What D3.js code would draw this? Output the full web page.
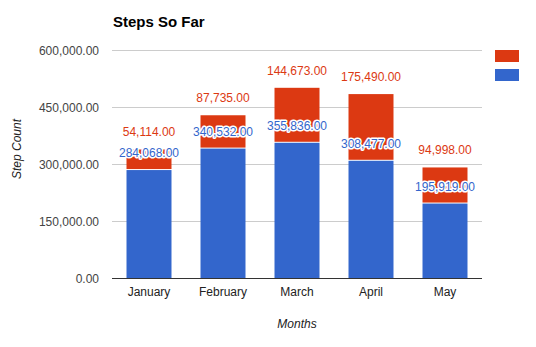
<!DOCTYPE html>
<html>
<head>
<meta charset="utf-8">
<script src="https://cdn.jsdelivr.net/npm/d3@7"></script>
<style>
  html, body { margin: 0; padding: 0; background: #fff; }
  svg { display: block; font-family: Arial, "Liberation Sans", sans-serif; }
</style>
</head>
<body>
<svg id="chart" width="536" height="347"></svg>
<script>
// Monthly step counts: walked so far (blue) plus the remainder (red) stacked on top
const months = ["January", "February", "March", "April", "May"];
const stepsDone = [284068, 340532, 355836, 308477, 195919];
const stepsExtra = [54114, 87735, 144673, 175490, 94998];
const yTicks = [0, 150000, 300000, 450000, 600000];
const seriesColors = ["#3366cc", "#dc3912"];

const svg = d3.select("#chart");
const plot = { left: 112, right: 482, top: 50, bottom: 278 };

const x = d3.scaleBand()
  .domain(months)
  .range([plot.left, plot.right])
  .paddingInner(0.392)
  .paddingOuter(0.196);

const y = d3.scaleLinear()
  .domain([0, 600000])
  .range([plot.bottom, plot.top]);

const fmt = d3.format(",.2f");

// Title
svg.append("text")
  .attr("x", 113).attr("y", 27)
  .attr("font-size", 15).attr("font-weight", "bold")
  .attr("fill", "#000")
  .text("Steps So Far");

// Gridlines
svg.append("g").selectAll("line")
  .data(yTicks.filter(d => d !== 0))
  .join("line")
  .attr("x1", plot.left).attr("x2", plot.right)
  .attr("y1", d => Math.round(y(d)) + 0.5).attr("y2", d => Math.round(y(d)) + 0.5)
  .attr("stroke", "#cccccc").attr("stroke-width", 1);

// Y axis tick labels
const yAxis = d3.axisLeft(y).tickValues(yTicks).tickFormat(fmt).tickSize(0).tickPadding(13);
const yg = svg.append("g").attr("transform", `translate(${plot.left},1)`).call(yAxis);
yg.select(".domain").remove();
yg.selectAll("text").attr("font-size", 12).attr("fill", "#444").attr("font-family", null);

// Stacked bars
const rows = months.map((m, i) => ({ month: m, done: stepsDone[i], extra: stepsExtra[i] }));
const bars = svg.append("g");

bars.selectAll("rect.extra")
  .data(rows)
  .join("rect")
  .attr("class", "extra")
  .attr("x", d => x(d.month))
  .attr("width", x.bandwidth())
  .attr("y", d => y(d.done + d.extra))
  .attr("height", d => y(d.done) - y(d.done + d.extra) - 1)
  .attr("fill", seriesColors[1]);

bars.selectAll("rect.done")
  .data(rows)
  .join("rect")
  .attr("class", "done")
  .attr("x", d => x(d.month))
  .attr("width", x.bandwidth())
  .attr("y", d => y(d.done))
  .attr("height", d => y(0) - y(d.done))
  .attr("fill", seriesColors[0]);

// Baseline
svg.append("line")
  .attr("x1", plot.left).attr("x2", plot.right)
  .attr("y1", plot.bottom + 0.5).attr("y2", plot.bottom + 0.5)
  .attr("stroke", "#333").attr("stroke-width", 1);

// X axis labels
const xAxis = d3.axisBottom(x).tickSize(0).tickPadding(9);
const xg = svg.append("g").attr("transform", `translate(0,${plot.bottom})`).call(xAxis);
xg.select(".domain").remove();
xg.selectAll("text").attr("font-size", 12).attr("fill", "#222").attr("font-family", null);

// Value annotations with white halo
const labels = svg.append("g")
  .attr("font-size", 12)
  .attr("text-anchor", "middle")
  .attr("stroke", "#fff").attr("stroke-width", 3)
  .attr("stroke-linejoin", "round")
  .attr("paint-order", "stroke");

labels.selectAll("text.extra")
  .data(rows)
  .join("text")
  .attr("class", "extra")
  .attr("x", d => x(d.month) + x.bandwidth() / 2)
  .attr("y", d => y(d.done + d.extra) - 13)
  .attr("fill", seriesColors[1])
  .text(d => fmt(d.extra));

labels.selectAll("text.done")
  .data(rows)
  .join("text")
  .attr("class", "done")
  .attr("x", d => x(d.month) + x.bandwidth() / 2)
  .attr("y", d => y(d.done) - 13)
  .attr("fill", seriesColors[0])
  .text(d => fmt(d.done));

// Axis titles
svg.append("text")
  .attr("transform", "translate(21,149) rotate(-90)")
  .attr("text-anchor", "middle")
  .attr("font-size", 12).attr("font-style", "italic").attr("fill", "#222")
  .text("Step Count");

svg.append("text")
  .attr("x", (plot.left + plot.right) / 2).attr("y", 328)
  .attr("text-anchor", "middle")
  .attr("font-size", 12).attr("font-style", "italic").attr("fill", "#222")
  .text("Months");

// Legend swatches
const legend = svg.append("g");
legend.selectAll("rect")
  .data([seriesColors[1], seriesColors[0]])
  .join("rect")
  .attr("x", 495)
  .attr("y", (d, i) => 50 + i * 19)
  .attr("width", 24).attr("height", 12)
  .attr("fill", d => d);
</script>
</body>
</html>
